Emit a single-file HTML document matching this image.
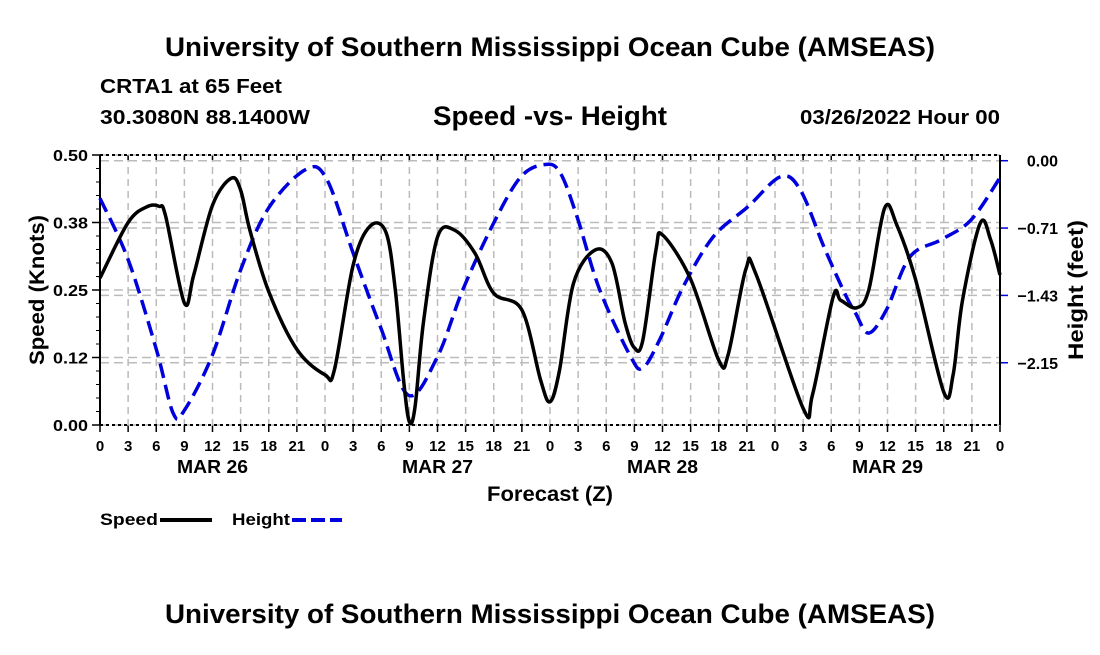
<!DOCTYPE html>
<html><head><meta charset="utf-8"><style>
body{margin:0;background:#fff;font-family:"Liberation Sans",sans-serif;}
svg text{font-family:"Liberation Sans",sans-serif;font-weight:bold;}
</style></head><body>
<svg id="c" width="1100" height="650" xmlns="http://www.w3.org/2000/svg">
<text x="550" y="56" text-anchor="middle" font-size="27" textLength="770" lengthAdjust="spacingAndGlyphs">University of Southern Mississippi Ocean Cube (AMSEAS)</text>
<text x="100" y="93" font-size="20" textLength="182" lengthAdjust="spacingAndGlyphs">CRTA1 at 65 Feet</text>
<text x="100" y="124" font-size="20" textLength="210" lengthAdjust="spacingAndGlyphs">30.3080N  88.1400W</text>
<text x="550" y="125" text-anchor="middle" font-size="27" textLength="234" lengthAdjust="spacingAndGlyphs">Speed -vs- Height</text>
<text x="1000" y="124" text-anchor="end" font-size="20" textLength="200" lengthAdjust="spacingAndGlyphs">03/26/2022 Hour 00</text>
<text x="550" y="501" text-anchor="middle" font-size="21" textLength="126" lengthAdjust="spacingAndGlyphs">Forecast (Z)</text>
<text transform="translate(44,290) rotate(-90)" text-anchor="middle" font-size="21" textLength="150" lengthAdjust="spacingAndGlyphs">Speed (Knots)</text>
<text transform="translate(1083,290) rotate(-90)" text-anchor="middle" font-size="21" textLength="140" lengthAdjust="spacingAndGlyphs">Height (feet)</text>
<g>
<text x="100" y="525" font-size="17" textLength="58" lengthAdjust="spacingAndGlyphs">Speed</text>
<line x1="160" y1="520" x2="212" y2="520" stroke="#000" stroke-width="4"/>
<text x="232" y="525" font-size="17" textLength="58" lengthAdjust="spacingAndGlyphs">Height</text>
<line x1="292" y1="520" x2="342" y2="520" stroke="#0000dd" stroke-width="4" stroke-dasharray="14 5"/>
</g>
<text x="550" y="623" text-anchor="middle" font-size="27" textLength="770" lengthAdjust="spacingAndGlyphs">University of Southern Mississippi Ocean Cube (AMSEAS)</text>
<g id="plot"></g>
</svg>
<script>
const speedHours=[0,3,5,6.3,7,9,10,12,14,15,16,18,21,24,25,27,28.8,30.5,31.5,32.4,33,33.6,34.5,36,37.8,40,42,45,47,48,49,50.5,52.8,54.6,56,57,57.9,59.3,60,63,66,67,68.9,70,75,76,78.2,79,80.7,82,83.7,85,87,90,91,92,93.9,95,96];
const speedValues=[0.272,0.375,0.404,0.405,0.387,0.226,0.278,0.407,0.457,0.435,0.36,0.247,0.14,0.093,0.102,0.296,0.368,0.357,0.25,0.08,0.006,0.033,0.19,0.348,0.361,0.318,0.244,0.213,0.083,0.043,0.10,0.262,0.324,0.30,0.19,0.143,0.157,0.324,0.352,0.27,0.12,0.13,0.289,0.278,0.031,0.056,0.237,0.231,0.217,0.25,0.402,0.37,0.269,0.061,0.093,0.231,0.374,0.343,0.278];
const heightHours=[0,3,6,7.8,9,12,15,18,22,24.2,27,29.9,32.9,36,38.7,42,44.9,47.5,49.1,50.9,53.3,56.6,57.9,59.7,62.2,65.4,69.1,72.6,74.7,77.2,79.4,80.6,82,83.9,86.4,89.7,92.9,96];
const heightValues=[-0.40,-1.05,-2.0,-2.68,-2.65,-2.06,-1.16,-0.5,-0.09,-0.2,-0.98,-1.76,-2.49,-2.08,-1.37,-0.66,-0.17,-0.04,-0.13,-0.6,-1.37,-2.08,-2.2,-1.9,-1.34,-0.81,-0.49,-0.17,-0.31,-0.91,-1.40,-1.62,-1.83,-1.58,-1.02,-0.84,-0.63,-0.18];
const xTickLabels=["0","3","6","9","12","15","18","21","0","3","6","9","12","15","18","21","0","3","6","9","12","15","18","21","0","3","6","9","12","15","18","21","0"];
const dayLabels=["MAR 26","MAR 27","MAR 28","MAR 29"];
const leftTicks=[0,0.125,0.25,0.375,0.5];
const leftTickLabels=["0.00","0.12","0.25","0.38","0.50"];
const rightTicks=[0,-0.715,-1.43,-2.145];
const rightTickLabels=["0.00","\u22120.71","\u22121.43","\u22122.15"];

const L=100,R=1000,T=155,B=425;
const x=h=>L+(R-L)*h/96;
const yS=v=>B-(B-T)*v/0.5;
const yH=v=>160.7-94.2*v;
const g=document.getElementById('plot');
const NS='http://www.w3.org/2000/svg';
function mk(tag,attrs){const e=document.createElementNS(NS,tag);for(const k in attrs)e.setAttribute(k,attrs[k]);g.appendChild(e);return e;}
xTickLabels.forEach((t,i)=>{const xx=x(i*3);
 const gl=mk('line',{x1:xx,y1:T,x2:xx,y2:B,stroke:'#bbb','stroke-width':1.5,'stroke-dasharray':'7 5'});
 
 const tk=mk('line',{x1:xx,y1:B,x2:xx,y2:B+7,stroke:'#000','stroke-width':1.5});
 
 const tx=mk('text',{x:xx,y:451,'text-anchor':'middle','font-size':15});tx.textContent=t;
 
 const tt=mk('line',{x1:xx,y1:T,x2:xx,y2:T+5,stroke:'#000','stroke-width':1.5});
 
});
dayLabels.forEach((d,i)=>{const t=mk('text',{x:x(12+24*i),y:473,'text-anchor':'middle','font-size':18,textLength:71,lengthAdjust:'spacingAndGlyphs'});t.textContent=d;
 });
leftTicks.forEach((v,i)=>{const yy=yS(v);
 const gl=mk('line',{x1:L,y1:yy,x2:R,y2:yy,stroke:'#bbb','stroke-width':1.5,'stroke-dasharray':'9 5'});
 
 const tk=mk('line',{x1:L-8,y1:yy,x2:L,y2:yy,stroke:'#000','stroke-width':1.5});
 
 const t=mk('text',{x:L-12,y:yy+6,'text-anchor':'end','font-size':16,textLength:35,lengthAdjust:'spacingAndGlyphs'});t.textContent=leftTickLabels[i];
 });
for(let i=0;i<=20;i++){const yy=yS(i*0.025);const m=mk('line',{x1:L-4,y1:yy,x2:L,y2:yy,stroke:'#000','stroke-width':1});
 }
rightTicks.forEach((v,i)=>{const yy=yH(v);
 const gl=mk('line',{x1:L,y1:yy,x2:R,y2:yy,stroke:'#bbb','stroke-width':1.5,'stroke-dasharray':'9 5'});
 
 const tk=mk('line',{x1:R,y1:yy,x2:R+8,y2:yy,stroke:'#0000dd','stroke-width':1.5});
 
 const t=mk('text',{x:1058,y:yy+6,'text-anchor':'end','font-size':16});t.textContent=rightTickLabels[i];
 });
[[L,T,R,T,'3 3'],[L,B,R,B,'3 3']].forEach(a=>{const e=mk('line',{x1:a[0],y1:a[1],x2:a[2],y2:a[3],stroke:'#000','stroke-width':2,'stroke-dasharray':a[4]});
 });
const la=mk('line',{x1:L,y1:T,x2:L,y2:B,stroke:'#000','stroke-width':2});

const ra=mk('line',{x1:R,y1:T,x2:R,y2:B,stroke:'#000','stroke-width':2});

function smooth(pts){let d='M'+pts[0][0]+','+pts[0][1];
 for(let i=0;i<pts.length-1;i++){const p0=pts[Math.max(0,i-1)],p1=pts[i],p2=pts[i+1],p3=pts[Math.min(pts.length-1,i+2)];
  const c1=[p1[0]+(p2[0]-p0[0])/6,p1[1]+(p2[1]-p0[1])/6],c2=[p2[0]-(p3[0]-p1[0])/6,p2[1]-(p3[1]-p1[1])/6];
  d+=' C'+c1[0]+','+c1[1]+' '+c2[0]+','+c2[1]+' '+p2[0]+','+p2[1];}
 return d;}
const hp=mk('path',{d:smooth(heightHours.map((h,i)=>[x(h),yH(heightValues[i])])),fill:'none',stroke:'#0000dd','stroke-width':3.5,'stroke-dasharray':'15 7'});

const sp=mk('path',{d:smooth(speedHours.map((h,i)=>[x(h),yS(speedValues[i])])),fill:'none',stroke:'#000','stroke-width':3.5});

</script>
</body></html>
